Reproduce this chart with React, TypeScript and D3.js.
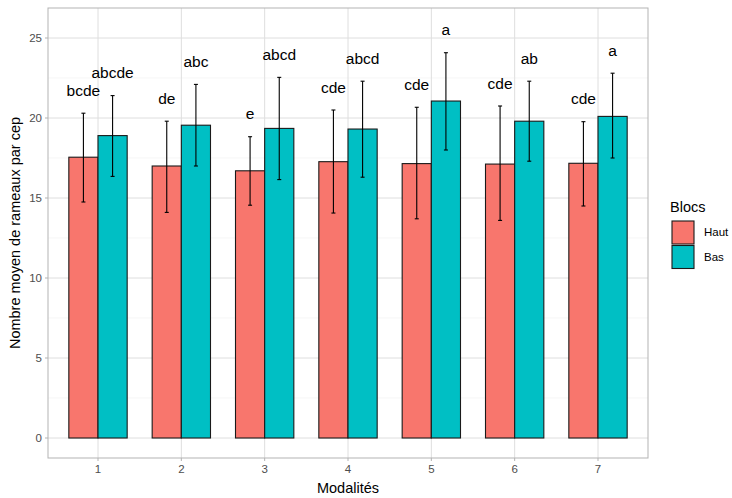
import React from "react";
import * as d3 from "d3";

const modalites = ["1", "2", "3", "4", "5", "6", "7"];
const blocs = ["Haut", "Bas"];
const hautMean = [17.55, 17.0, 16.7, 17.27, 17.15, 17.12, 17.17];
const hautLow = [14.75, 14.1, 14.55, 14.06, 13.7, 13.6, 14.5];
const hautHigh = [20.3, 19.8, 18.83, 20.5, 20.67, 20.75, 19.77];
const basMean = [18.9, 19.55, 19.35, 19.31, 21.06, 19.8, 20.1];
const basLow = [16.35, 17.0, 16.15, 16.3, 18.0, 17.3, 17.5];
const basHigh = [21.4, 22.1, 22.54, 22.3, 24.08, 22.3, 22.8];
const hautLetters = ["bcde", "de", "e", "cde", "cde", "cde", "cde"];
const basLetters = ["abcde", "abc", "abcd", "abcd", "a", "ab", "a"];
const yTicks = [0, 5, 10, 15, 20, 25];
const colors = ["#F8766D", "#00BFC4"];

export default function App() {
  const W = 732, H = 498;
  const pl = 48, pr = 648, pt = 8, pb = 458;
  const x = d3.scaleLinear().domain([0.4, 7.6]).range([pl, pr]);
  const y = d3.scaleLinear().domain([0, 25]).range([438, 38]);
  const bw = 0.35;
  const series = [
    { mean: hautMean, low: hautLow, high: hautHigh, letters: hautLetters },
    { mean: basMean, low: basLow, high: basHigh, letters: basLetters },
  ];
  const minor = d3.range(-2.5, 27.5, 5).filter((v) => y(v) > pt && y(v) < pb);
  const grey30 = "#4D4D4D";
  const font = "Liberation Sans, Arial, sans-serif";
  return (
    <svg width={W} height={H} style={{ position: "absolute", left: 0, top: 0, background: "#fff" }} fontFamily={font}>
      <rect x={0} y={0} width={W} height={H} fill="#fff" />
      {minor.map((v) => (
        <line key={"mn" + v} x1={pl} x2={pr} y1={y(v)} y2={y(v)} stroke="#F0F0F0" strokeWidth={0.6} />
      ))}
      {yTicks.map((v) => (
        <line key={"mj" + v} x1={pl} x2={pr} y1={y(v)} y2={y(v)} stroke="#DEDEDE" strokeWidth={1} />
      ))}
      {modalites.map((m, i) => (
        <line key={"vx" + m} x1={x(i + 1)} x2={x(i + 1)} y1={pt} y2={pb} stroke="#DEDEDE" strokeWidth={1} />
      ))}
      {series.map((s, si) =>
        modalites.map((m, i) => {
          const cx = i + 1 + (si === 0 ? -bw / 2 : bw / 2);
          return (
            <g key={"b" + si + m}>
              <rect
                x={x(cx - bw / 2)}
                y={y(s.mean[i])}
                width={x(cx + bw / 2) - x(cx - bw / 2)}
                height={y(0) - y(s.mean[i])}
                fill={colors[si]}
                stroke="#1a1a1a"
                strokeWidth={1.1}
              />
            </g>
          );
        })
      )}
      {series.map((s, si) =>
        modalites.map((m, i) => {
          const cx = i + 1 + (si === 0 ? -bw / 2 : bw / 2);
          const c = x(cx);
          return (
            <g key={"e" + si + m} stroke="#000" strokeWidth={1.1}>
              <line x1={c} x2={c} y1={y(s.high[i])} y2={y(s.low[i])} />
              <line x1={c - 2} x2={c + 2} y1={y(s.high[i])} y2={y(s.high[i])} />
              <line x1={c - 2} x2={c + 2} y1={y(s.low[i])} y2={y(s.low[i])} />
              <text
                x={c}
                y={y(s.high[i] + 1.08)}
                textAnchor="middle"
                fontSize={15.5}
                fill="#000"
                stroke="none"
              >
                {s.letters[i]}
              </text>
            </g>
          );
        })
      )}
      <rect x={pl} y={pt} width={pr - pl} height={pb - pt} fill="none" stroke="#B3B3B3" strokeWidth={1} />
      {yTicks.map((v) => (
        <g key={"yt" + v}>
          <line x1={pl - 3} x2={pl} y1={y(v)} y2={y(v)} stroke="#B3B3B3" />
          <text x={pl - 6} y={y(v) + 4} textAnchor="end" fontSize={11.5} fill={grey30}>
            {v}
          </text>
        </g>
      ))}
      {modalites.map((m, i) => (
        <g key={"xt" + m}>
          <line x1={x(i + 1)} x2={x(i + 1)} y1={pb} y2={pb + 3} stroke="#B3B3B3" />
          <text x={x(i + 1)} y={pb + 15} textAnchor="middle" fontSize={11.5} fill={grey30}>
            {m}
          </text>
        </g>
      ))}
      <text x={(pl + pr) / 2} y={493} textAnchor="middle" fontSize={14.5} fill="#000">
        Modalités
      </text>
      <text
        transform={`translate(20,${(pt + pb) / 2}) rotate(-90)`}
        textAnchor="middle"
        fontSize={14.5}
        fill="#000"
      >
        Nombre moyen de rameaux par cep
      </text>
      <text x={670} y={212} fontSize={14.5} fill="#000">
        Blocs
      </text>
      {blocs.map((b, i) => (
        <g key={"lg" + b}>
          <rect x={672} y={221 + i * 24.5} width={22} height={23} fill={colors[i]} stroke="#1a1a1a" strokeWidth={1.1} />
          <text x={704} y={236 + i * 24.5} fontSize={11.5} fill="#000">
            {b}
          </text>
        </g>
      ))}
    </svg>
  );
}
